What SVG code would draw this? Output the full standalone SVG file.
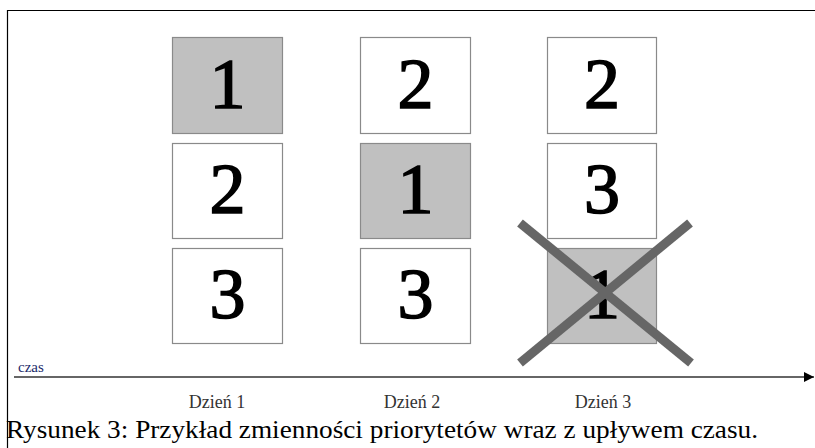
<svg xmlns="http://www.w3.org/2000/svg" width="815" height="448" viewBox="0 0 815 448">
<style>
.box{stroke:#8a8a8a;stroke-width:1.2;fill:#fff}
.hl{fill:#c0c0c0}
.num{font-family:"Liberation Serif","DejaVu Serif",serif;font-size:72px;text-anchor:middle;fill:#000;stroke:#000;stroke-width:1.6}
.lbl{font-family:"Liberation Serif","DejaVu Serif",serif;font-size:18px;text-anchor:middle;fill:#333}
</style>
<defs>
<marker id="arr" viewBox="0 0 10 10" refX="10" refY="5" markerWidth="14" markerHeight="10" markerUnits="userSpaceOnUse" orient="auto">
<path d="M0,0 L10,5 L0,10 z" fill="#000"/>
</marker>
</defs>
<rect width="815" height="448" fill="#fff"/>
<path d="M7.5,448 V10.5 H815" fill="none" stroke="#000" stroke-width="1.2"/>
<g id="d1-1"><rect class="box hl" x="172.5" y="37.5" width="110" height="96"/><text class="num" x="227.5" y="108">1</text></g>
<g id="d1-2"><rect class="box" x="172.5" y="143.5" width="110" height="95"/><text class="num" x="227.5" y="213">2</text></g>
<g id="d1-3"><rect class="box" x="172.5" y="248.5" width="110" height="95"/><text class="num" x="227.5" y="318">3</text></g>
<g id="d2-1"><rect class="box" x="360.5" y="37.5" width="110" height="96"/><text class="num" x="415.5" y="108">2</text></g>
<g id="d2-2"><rect class="box hl" x="360.5" y="143.5" width="110" height="95"/><text class="num" x="415.5" y="213">1</text></g>
<g id="d2-3"><rect class="box" x="360.5" y="248.5" width="110" height="95"/><text class="num" x="415.5" y="318">3</text></g>
<g id="d3-1"><rect class="box" x="547.5" y="37.5" width="109" height="96"/><text class="num" x="602" y="108">2</text></g>
<g id="d3-2"><rect class="box" x="547.5" y="143.5" width="109" height="95"/><text class="num" x="602" y="213">3</text></g>
<g id="d3-3"><rect class="box hl" x="547.5" y="248.5" width="109" height="95"/><text class="num" x="602" y="318">1</text></g>
<g id="cross" stroke="#666" stroke-width="9" stroke-linecap="butt">
<line x1="520" y1="223" x2="691" y2="363"/>
<line x1="690" y1="223" x2="520" y2="363"/>
</g>
<g id="connectors">
<line x1="14" y1="377" x2="814" y2="377" stroke="#333" stroke-width="1.5" marker-end="url(#arr)"/>
</g>
<text x="18" y="372" font-family="Liberation Serif, DejaVu Serif, serif" font-size="15" fill="#1a2a6a">czas</text>
<text class="lbl" x="217" y="408">Dzień 1</text>
<text class="lbl" x="412" y="408">Dzień 2</text>
<text class="lbl" x="603" y="408">Dzień 3</text>
<text x="6" y="438" font-family="Liberation Serif, DejaVu Serif, serif" font-size="25" textLength="752" lengthAdjust="spacingAndGlyphs" fill="#000">Rysunek 3: Przykład zmienności priorytetów wraz z upływem czasu.</text>
</svg>
